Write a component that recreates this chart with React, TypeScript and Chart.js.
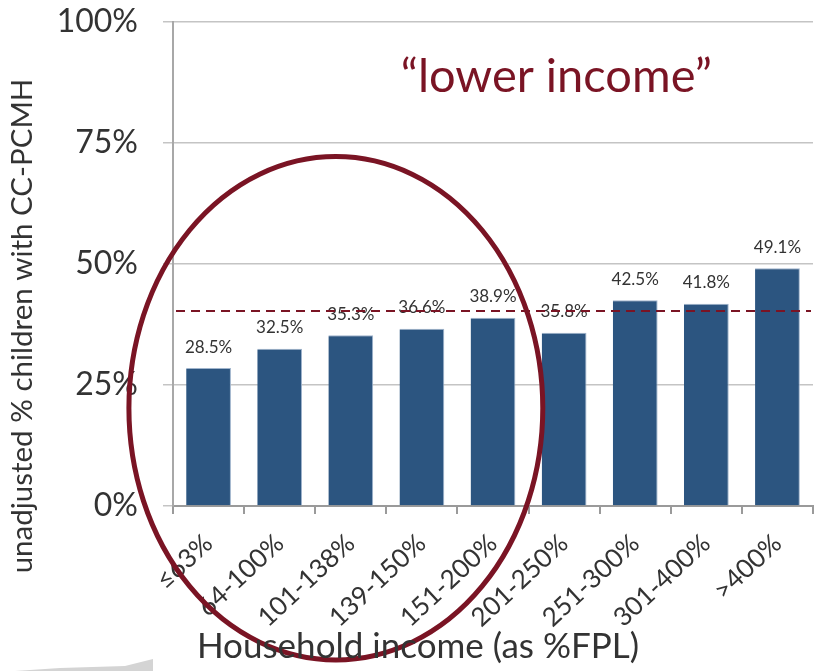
import React, { useEffect, useRef } from "react";
import { Chart, registerables } from "chart.js";

Chart.register(...registerables);

const categories = ["≤63%", "64-100%", "101-138%", "139-150%", "151-200%", "201-250%", "251-300%", "301-400%", ">400%"];
const values = [28.5, 32.5, 35.3, 36.6, 38.9, 35.8, 42.5, 41.8, 49.1];
const yTickValues = [0, 25, 50, 75, 100];
const referenceLine = 40.3;
const calloutText = "\u201Clower income\u201D";
const yTitle = "unadjusted % children with CC-PCMH";
const xTitle = "Household income (as %FPL)";

// highlight ellipse in data units (category index, percent)
const ellipseCenterIndex = 1.79;
const ellipseCenterValue = 20.2;
const ellipseHalfWidth = 2.91;
const ellipseHalfHeight = 52;
const calloutIndex = 4.89;
const calloutValue = 88.6;

const FONT = "Lato, 'Open Sans', sans-serif";
const RED = "#7A1424";
const TEXT = "#333333";

export default function App() {
  const ref = useRef<HTMLCanvasElement | null>(null);
  useEffect(() => {
    let chart: Chart | null = null;
    let cancelled = false;
    const overlay = {
      id: "overlay",
      afterDatasetsDraw(c: any) {
        const { ctx, chartArea } = c;
        const x = c.scales.x;
        const y = c.scales.y;
        const meta = c.getDatasetMeta(0);
        ctx.save();
        // value labels
        ctx.font = `17px ${FONT}`;
        ctx.fillStyle = TEXT;
        ctx.textAlign = "center";
        ctx.textBaseline = "middle";
        meta.data.forEach((bar: any, i: number) => {
          ctx.fillText(values[i].toFixed(1) + "%", bar.x, bar.y - 21);
        });
        // reference line
        const ly = y.getPixelForValue(referenceLine);
        ctx.strokeStyle = RED;
        ctx.lineWidth = 2;
        ctx.setLineDash([9, 6]);
        ctx.beginPath();
        ctx.moveTo(chartArea.left + 3, ly);
        ctx.lineTo(chartArea.right - 2, ly);
        ctx.stroke();
        ctx.setLineDash([]);
        // ellipse
        const catW = x.getPixelForValue(1) - x.getPixelForValue(0);
        const cx = x.getPixelForValue(ellipseCenterIndex);
        const cy = y.getPixelForValue(ellipseCenterValue);
        const rx = ellipseHalfWidth * catW;
        const ry = Math.abs(y.getPixelForValue(ellipseHalfHeight) - y.getPixelForValue(0));
        ctx.strokeStyle = RED;
        ctx.lineWidth = 5;
        ctx.beginPath();
        ctx.ellipse(cx, cy, rx, ry, 0, 0, Math.PI * 2);
        ctx.stroke();
        // callout
        ctx.font = `47px ${FONT}`;
        ctx.fillStyle = RED;
        ctx.fillText(calloutText, x.getPixelForValue(calloutIndex), y.getPixelForValue(calloutValue));
        ctx.restore();
      },
      afterDraw(c: any) {
        const { ctx } = c;
        ctx.save();
        ctx.fillStyle = TEXT;
        ctx.textAlign = "center";
        ctx.textBaseline = "middle";
        ctx.font = `29.5px ${FONT}`;
        ctx.translate(22, 326);
        ctx.rotate(-Math.PI / 2);
        ctx.fillText(yTitle, 0, 0);
        ctx.restore();
        ctx.save();
        ctx.fillStyle = TEXT;
        ctx.textAlign = "center";
        ctx.textBaseline = "middle";
        ctx.font = `35px ${FONT}`;
        ctx.fillText(xTitle, 418, 647);
        ctx.restore();
        // faint watermark shape at bottom-left
        ctx.save();
        ctx.fillStyle = "#d4d4d4";
        ctx.beginPath();
        ctx.moveTo(15, 671);
        ctx.lineTo(60, 668);
        ctx.lineTo(125, 666);
        ctx.lineTo(153, 659);
        ctx.lineTo(153, 671);
        ctx.closePath();
        ctx.fill();
        ctx.restore();
      },
    };

    const make = () => {
      if (cancelled || !ref.current) return;
      chart = new Chart(ref.current, {
        type: "bar",
        data: {
          labels: categories,
          datasets: [
            {
              data: values,
              backgroundColor: "#2C5580",
              borderColor: "#9FB4CC",
              borderWidth: { top: 1, right: 1, left: 0, bottom: 0 } as any,
              barPercentage: 0.63,
              categoryPercentage: 1,
            },
          ],
        },
        options: {
          responsive: false,
          animation: false,
          devicePixelRatio: 1,
          layout: { padding: { top: 22, right: 1, bottom: 0, left: 0 } },
          plugins: { legend: { display: false }, tooltip: { enabled: false } },
          scales: {
            x: {
              offset: true,
              grid: { display: true, drawOnChartArea: false, drawTicks: true, tickLength: 8, color: "#9a9a9a", lineWidth: 2, offset: true },
              border: { display: true, color: "#9a9a9a", width: 2 },
              ticks: {
                font: { family: FONT, size: 26 },
                color: TEXT,
                minRotation: 43,
                maxRotation: 43,
                autoSkip: false,
                padding: 14,
              },
              afterFit(scale: any) {
                scale.height = 165;
                scale.paddingLeft = 0;
                scale.paddingRight = 0;
              },
            },
            y: {
              min: 0,
              max: 100,
              afterBuildTicks(scale: any) {
                scale.ticks = yTickValues.map((v) => ({ value: v }));
              },
              grid: { color: "#c4c4c4", lineWidth: 1.5, tickLength: 10, drawTicks: true },
              border: { display: true, color: "#a8a8a8", width: 2 },
              ticks: {
                font: { family: FONT, size: 32 },
                color: TEXT,
                padding: 25,
                callback: (v: any) => v + "%",
              },
              afterFit(scale: any) {
                scale.width = 173;
                scale.paddingTop = 0;
                scale.paddingBottom = 0;
              },
            },
          },
        },
        plugins: [overlay],
      });
    };
    const fonts: any = (document as any).fonts;
    if (fonts && fonts.load) {
      Promise.all([fonts.load(`16px Lato`), fonts.load(`31px Lato`)]).then(make, make);
    } else make();
    return () => {
      cancelled = true;
      if (chart) chart.destroy();
    };
  }, []);
  return (
    <div style={{ position: "fixed", left: 0, top: 0, width: 814, height: 671, background: "#fff" }}>
      <canvas ref={ref} width={814} height={671} style={{ width: 814, height: 671 }} />
    </div>
  );
}
